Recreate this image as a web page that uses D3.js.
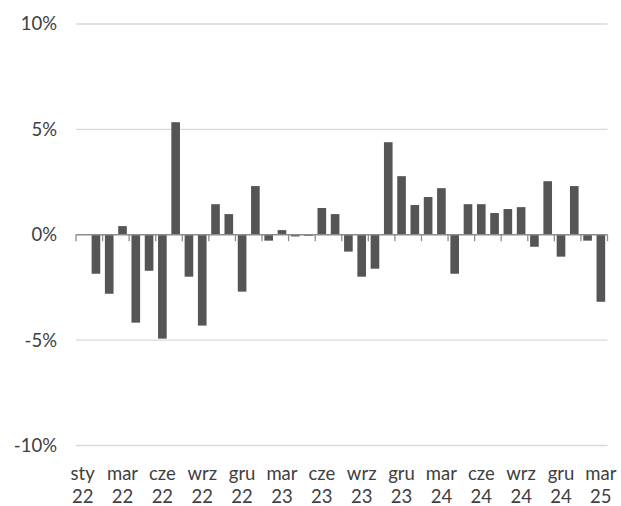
<!DOCTYPE html>
<html>
<head>
<meta charset="utf-8">
<script src="https://cdn.jsdelivr.net/npm/d3@7"></script>
<style>
  html, body { margin: 0; padding: 0; background: #fff; }
  svg { display: block; }
  text { font-family: Lato, "Open Sans", sans-serif; fill: #404040; }
</style>
</head>
<body>
<svg id="chart" width="621" height="506"></svg>
<script>
// Categories (first slot is the base period without a bar)
const categories = ["gru 21",
  "sty 22","lut 22","mar 22","kwi 22","maj 22","cze 22","lip 22","sie 22","wrz 22","paź 22","lis 22","gru 22",
  "sty 23","lut 23","mar 23","kwi 23","maj 23","cze 23","lip 23","sie 23","wrz 23","paź 23","lis 23","gru 23",
  "sty 24","lut 24","mar 24","kwi 24","maj 24","cze 24","lip 24","sie 24","wrz 24","paź 24","lis 24","gru 24",
  "sty 25","lut 25","mar 25"];
// Monthly change, %
const values = [null,
  -1.85, -2.80, 0.41, -4.17, -1.71, -4.93, 5.34, -1.99, -4.31, 1.45, 0.98, -2.70,
  2.31, -0.28, 0.22, -0.08, -0.05, 1.27, 0.98, -0.80, -1.99, -1.61, 4.39, 2.78,
  1.41, 1.79, 2.21, -1.85, 1.45, 1.45, 1.03, 1.22, 1.31, -0.57, 2.54, -1.04,
  2.31, -0.28, -3.18];
// X tick labels (every 3rd category)
const tickLabels = ["sty 22","mar 22","cze 22","wrz 22","gru 22","mar 23","cze 23",
  "wrz 23","gru 23","mar 24","cze 24","wrz 24","gru 24","mar 25"];
const yTicks = [10, 5, 0, -5, -10];

(function () {
const svg = d3.select("#chart");
const L = 76, R = 607.5, T = 24, B = 445.5;

const x = d3.scaleBand().domain(d3.range(categories.length)).range([L, R])
  .paddingInner(0.35).paddingOuter(0.175);
const xb = d3.scaleLinear().domain([0, categories.length]).range([L, R]);
const y = d3.scaleLinear().domain([-10, 10]).range([B, T]);

// gridlines
svg.append("g").selectAll("line").data(yTicks.filter(d => d !== 0)).join("line")
  .attr("x1", L).attr("x2", R)
  .attr("y1", d => y(d)).attr("y2", d => y(d))
  .attr("stroke", "#d9d9d9").attr("stroke-width", 1.3);

// y labels
svg.append("g").selectAll("text").data(yTicks).join("text")
  .attr("x", 57).attr("y", d => y(d)).attr("dy", "0.35em")
  .attr("text-anchor", "end").attr("font-size", 18.5)
  .text(d => d + "%");

// bars
const data = values.map((v, i) => ({ i, v })).filter(d => d.v !== null);
svg.append("g").selectAll("rect").data(data).join("rect")
  .attr("x", d => x(d.i))
  .attr("width", x.bandwidth())
  .attr("y", d => y(Math.max(0, d.v)))
  .attr("height", d => Math.abs(y(d.v) - y(0)))
  .attr("fill", "#555555");

// axis line and ticks
const ax = svg.append("g");
ax.append("line").attr("x1", L).attr("x2", R)
  .attr("y1", y(0)).attr("y2", y(0))
  .attr("stroke", "#8c8c8c").attr("stroke-width", 1.3);
ax.selectAll("line.tk").data(d3.range(0, categories.length + 1, 2)).join("line")
  .attr("class", "tk")
  .attr("x1", d => xb(d)).attr("x2", d => xb(d))
  .attr("y1", y(0)).attr("y2", y(0) + 6.5)
  .attr("stroke", "#8c8c8c").attr("stroke-width", 1.3);

// x labels
const lbl = svg.append("g").selectAll("text").data(tickLabels).join("text")
  .attr("text-anchor", "middle").attr("font-size", 18.5)
  .attr("transform", (d, k) => `translate(${x(k * 3) + x.bandwidth() / 2},0)`);
lbl.append("tspan").attr("x", 0).attr("y", 480).text(d => d.split(" ")[0]);
lbl.append("tspan").attr("x", 0).attr("y", 503).text(d => d.split(" ")[1]);
})();
</script>
</body>
</html>
